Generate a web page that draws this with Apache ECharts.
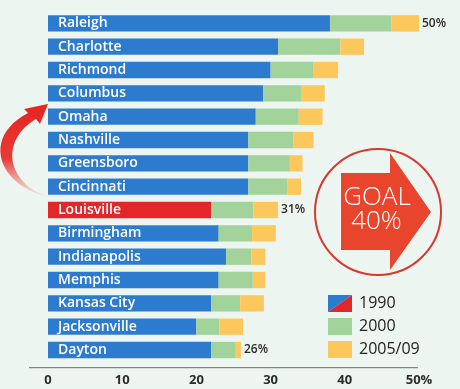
<!DOCTYPE html>
<html>
<head>
<meta charset="utf-8">
<script src="https://cdn.jsdelivr.net/npm/echarts@6/dist/echarts.min.js"></script>
<style>
  html, body { margin: 0; padding: 0; background: #edf5f0; }
  #chart { width: 460px; height: 389px; }
</style>
</head>
<body>
<div id="chart"></div>
<script>
// Share of adults with a degree, by city (percent)
const cities = ['Raleigh', 'Charlotte', 'Richmond', 'Columbus', 'Omaha', 'Nashville', 'Greensboro',
  'Cincinnati', 'Louisville', 'Birmingham', 'Indianapolis', 'Memphis', 'Kansas City', 'Jacksonville', 'Dayton'];
const y1990 = [38, 31, 30, 29, 28, 27, 27, 27, 22, 23, 24, 23, 22, 20, 22];
const y2000 = [46.3, 39.4, 35.8, 34.2, 33.8, 33.1, 32.6, 32.3, 27.7, 27.5, 27.4, 27.6, 25.9, 23.1, 25.2];
const y2009 = [50, 42.6, 39.1, 37.3, 37, 35.8, 34.3, 34.1, 31, 30.7, 29.3, 29.3, 29.1, 26.3, 26];
const labelledCities = ['Raleigh', 'Louisville', 'Dayton'];
const highlightCity = 'Louisville';
const tickLabels = ['0', '10', '20', '30', '40', '50%'];
const seriesNames = ['1990', '2000', '2005/09'];

const BLUE = '#2d7bcf', RED = '#e2262a', GREEN = '#a2d39b', YELLOW = '#fcc85c';
const FONT = '"Open Sans", sans-serif';

const splitIcon = 'image://data:image/svg+xml;utf8,' + encodeURIComponent(
  '<svg xmlns="http://www.w3.org/2000/svg" width="24" height="17">' +
  '<polygon points="0,0 24,0 0,17" fill="' + BLUE + '"/>' +
  '<polygon points="24,0 24,17 0,17" fill="' + RED + '"/></svg>');

// sample a cubic curve into points for the decorative arrow outline
function cubic(p0, p1, p2, p3, n) {
  const pts = [];
  for (let k = 0; k <= n; k++) {
    const t = k / n, u = 1 - t;
    pts.push([
      u * u * u * p0[0] + 3 * u * u * t * p1[0] + 3 * u * t * t * p2[0] + t * t * t * p3[0],
      u * u * u * p0[1] + 3 * u * u * t * p1[1] + 3 * u * t * t * p2[1] + t * t * t * p3[1]
    ]);
  }
  return pts;
}
const arrowOutline = [].concat(
  cubic([46, 196], [0, 186], [-20, 138], [28, 113], 24),
  [[24, 109], [48, 104], [40, 124]],
  cubic([36, 119], [0, 140], [6, 182], [46, 196], 24)
);

const chart = echarts.init(document.getElementById('chart'), null, { renderer: 'canvas' });

const base = y1990.map((v, i) => ({
  value: v,
  itemStyle: cities[i] === highlightCity ? { color: RED } : undefined
}));
const gain2000 = y2000.map((v, i) => +(v - y1990[i]).toFixed(2));
const gain2009 = y2009.map((v, i) => +(v - y2000[i]).toFixed(2));

chart.setOption({
  backgroundColor: '#edf5f0',
  animation: false,
  grid: { left: 48, right: 41, top: 11.7, bottom: 27.3 },
  xAxis: {
    type: 'value', min: 0, max: 50, interval: 10,
    axisLine: { show: false }, axisTick: { show: false }, splitLine: { show: false },
    axisLabel: {
      margin: 12, fontFamily: FONT, fontSize: 13, fontWeight: 'bold', color: '#2b2b2b',
      formatter: (v) => tickLabels[Math.round(v / 10)]
    }
  },
  yAxis: {
    type: 'category', inverse: true, data: cities,
    axisLine: { show: false }, axisTick: { show: false }, axisLabel: { show: false }
  },
  legend: {
    orient: 'vertical', left: 328, top: 295, padding: 0,
    itemWidth: 24, itemHeight: 17, itemGap: 6,
    textStyle: { fontFamily: FONT, fontSize: 16, fontWeight: 500, color: '#222', lineHeight: 17, padding: [0, 0, 0, 2] },
    data: [{ name: seriesNames[0], icon: splitIcon }, { name: seriesNames[1], icon: 'rect' }, { name: seriesNames[2], icon: 'rect' }]
  },
  series: [
    {
      name: seriesNames[0], type: 'bar', stack: 'total', barWidth: '70%', data: base,
      itemStyle: { color: BLUE },
      label: {
        show: true, position: 'insideLeft', distance: 10, formatter: '{b}',
        fontFamily: FONT, fontSize: 14, fontWeight: 600, color: '#fff'
      }
    },
    { name: seriesNames[1], type: 'bar', stack: 'total', data: gain2000, itemStyle: { color: GREEN } },
    {
      name: seriesNames[2], type: 'bar', stack: 'total', data: gain2009, itemStyle: { color: YELLOW },
      label: {
        show: true, position: 'right', distance: 3,
        fontFamily: FONT, fontSize: 12, fontWeight: 600, color: '#2b2b2b',
        formatter: (p) => labelledCities.includes(p.name) ? Math.round(y2009[p.dataIndex]) + '%' : ''
      }
    }
  ],
  graphic: [
    // baseline under the bars
    { type: 'line', shape: { x1: 29, y1: 367.7, x2: 418, y2: 367.7 }, style: { stroke: '#6a6a6a', lineWidth: 1 } },
    // curved arrow rising from Louisville
    {
      type: 'polygon',
      shape: { points: arrowOutline },
      style: {
        fill: {
          type: 'linear', x: 0, y: 0, x2: 0, y2: 1,
          colorStops: [
            { offset: 0, color: '#e52521' }, { offset: 0.6, color: '#e93a34' }, { offset: 1, color: 'rgba(240,120,110,0.15)' }
          ]
        }
      }
    },
    // goal badge
    { type: 'circle', shape: { cx: 378, cy: 212, r: 63 }, style: { fill: 'none', stroke: '#d8372c', lineWidth: 2 } },
    {
      type: 'polygon',
      shape: { points: [[341, 173], [390, 173], [390, 153], [431, 212], [390, 270], [390, 250], [341, 250]] },
      style: { fill: '#e8452c' }
    },
    {
      type: 'text', x: 377, y: 197.5,
      style: { text: 'GOAL', fill: '#fff', font: '300 26px ' + FONT, align: 'center', verticalAlign: 'middle' }
    },
    {
      type: 'text', x: 376.5, y: 222,
      style: { text: '40%', fill: '#fff', font: '300 26px ' + FONT, align: 'center', verticalAlign: 'middle' }
    }
  ]
});
</script>
</body>
</html>
